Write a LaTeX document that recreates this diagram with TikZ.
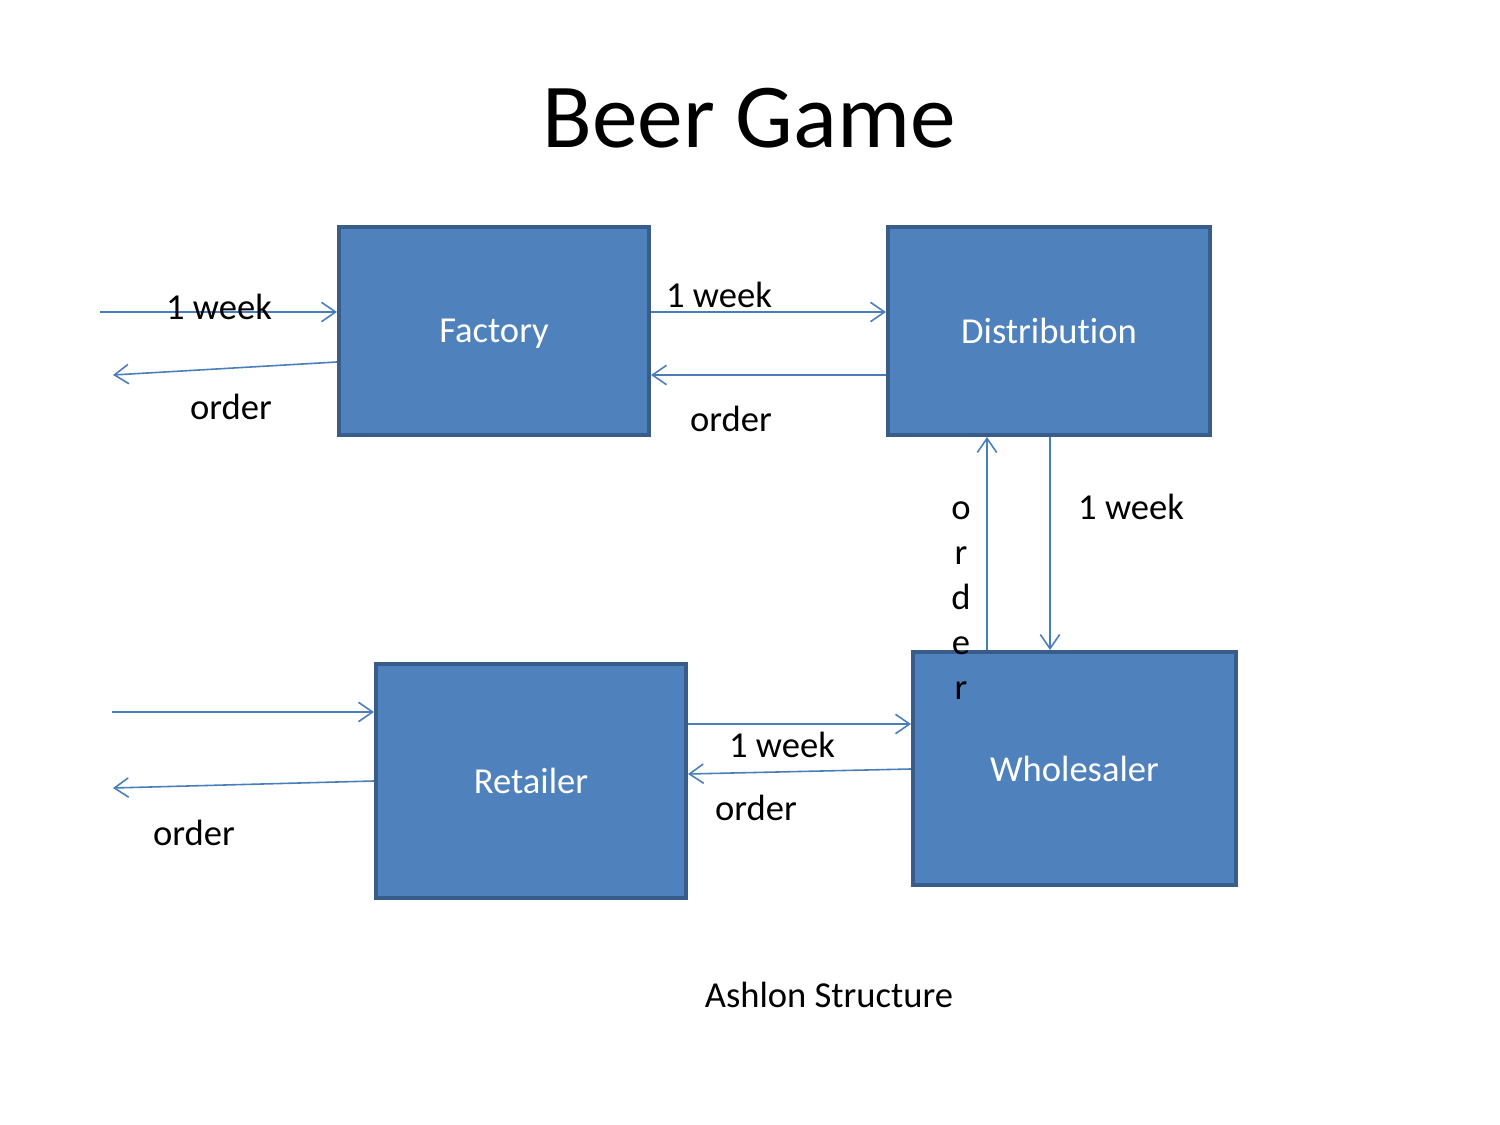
\documentclass[tikz,border=0pt]{standalone}
\usepackage{fontspec}
\setmainfont[Ligatures=NoCommon]{Carlito}
\usetikzlibrary{arrows.meta}
\definecolor{boxfill}{HTML}{4F81BD}
\definecolor{boxline}{HTML}{385D8A}
\definecolor{linkcol}{HTML}{4A7EBB}
\begin{document}
\begin{tikzpicture}[x=0.01cm,y=-0.01cm,
  unit/.style={draw=boxline, fill=boxfill, line width=1.1pt, inner sep=0pt,
    text=white, font=\fontsize{10.4}{12}\selectfont, text depth=0pt},
  link/.style={draw=linkcol, line width=0.45pt, -{Straight Barb[length=4pt,width=5.5pt]}},
  lbl/.style={font=\fontsize{10.4}{12}\selectfont, anchor=base, inner sep=0pt}]
\useasboundingbox (0,0) rectangle (1500,1125);
\node[font=\fontsize{26}{30}\selectfont, anchor=base, inner sep=0pt] (title) at (749,148) {Beer Game};

\node[unit, minimum width=3.10cm, minimum height=2.08cm] (fac) at (494,331) {Factory};
\node[unit, minimum width=3.22cm, minimum height=2.08cm] (dis) at (1049,331) {Distribution};
\node[unit, minimum width=3.10cm, minimum height=2.34cm] (ret) at (531,781) {Retailer};
\node[unit, minimum width=3.23cm, minimum height=2.33cm] (whs) at (1074.5,768.5) {Wholesaler};

% free ends
\coordinate (fin) at (100,312);
\coordinate (fout) at (113,375);
\coordinate (fo) at (0,362);
\coordinate (rin) at (112,712);
\coordinate (rout) at (113,788);
\coordinate (ro) at (0,781);
\coordinate (y312) at (0,312);
\coordinate (y375) at (0,375);
\coordinate (x987) at (987,0);
\coordinate (x1050) at (1050,0);
\coordinate (y724) at (0,724);
\coordinate (y769) at (0,769);
\coordinate (y774) at (0,774);

\draw[link] (fin) -- (fin -| fac.west);
\draw[link] (fo -| fac.west) -- (fout);
\draw[link] (y312 -| fac.east) -- (y312 -| dis.west);
\draw[link] (y375 -| dis.west) -- (y375 -| fac.east);
\draw[link] (x987 |- whs.north) -- (x987 |- dis.south);
\draw[link] (x1050 |- dis.south) -- (x1050 |- whs.north);
\draw[link] (rin) -- (rin -| ret.west);
\draw[link] (ro -| ret.west) -- (rout);
\draw[link] (y724 -| ret.east) -- (y724 -| whs.west);
\draw[link] (y769 -| whs.west) -- (y774 -| ret.east);

\node[lbl] (l1) at (219,320) {1 week};
\node[lbl] (l2) at (231,420) {order};
\node[lbl] (l3) at (719,308) {1 week};
\node[lbl] (l4) at (731,432) {order};
\node[lbl] (l5) at (1131,520) {1 week};
\node[lbl, align=center, font=\fontsize{10.4}{12.8}\selectfont] (l6) at (961,700) {o\\r\\d\\e\\r};
\node[lbl] (l7) at (194,845) {order};
\node[lbl] (l8) at (782,758) {1 week};
\node[lbl] (l9) at (756,820) {order};
\node[lbl] (cap) at (829,1007) {Ashlon Structure};
\end{tikzpicture}
\end{document}
